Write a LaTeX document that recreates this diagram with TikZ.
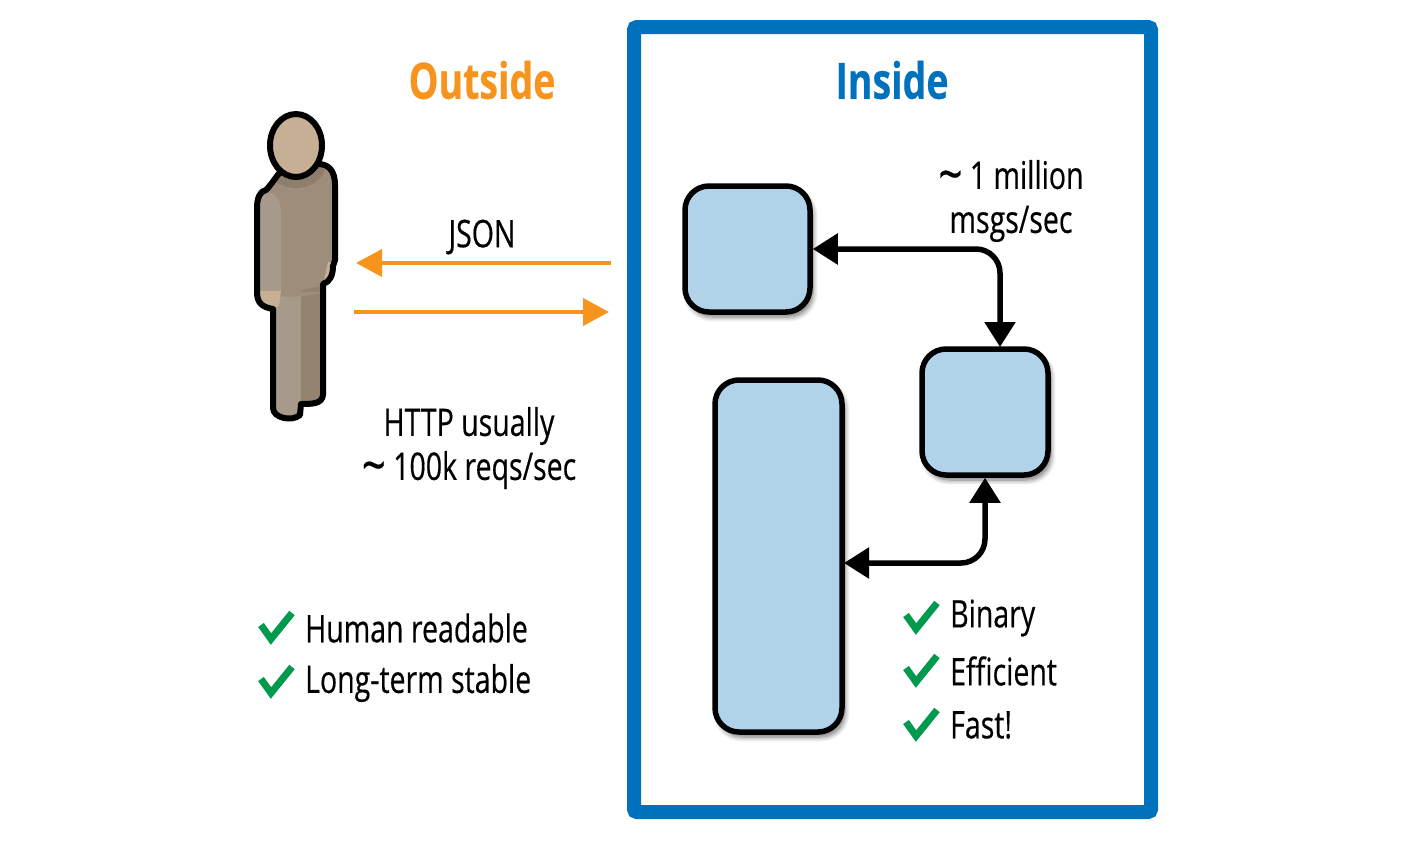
\documentclass[tikz,border=0pt]{standalone}
\usepackage{fontspec}
\setmainfont[FakeStretch=0.75, FakeBold=0.4]{Open Sans}
\usepackage{xcolor}
\usetikzlibrary{arrows.meta, positioning, shadows.blur, calc, shapes.geometric}
\definecolor{outsidecol}{HTML}{F7941E}
\definecolor{insidecol}{HTML}{0071BC}
\definecolor{boxcol}{HTML}{B0D3EA}
\definecolor{tickcol}{HTML}{009A4E}
\definecolor{skincol}{HTML}{C6AF94}
\definecolor{bodycol}{HTML}{9E8D7A}
\definecolor{armcol}{HTML}{A89A8A}
\definecolor{legcol}{HTML}{94836F}
\definecolor{collarcol}{HTML}{8F7E6B}
\newcommand{\widetilt}{\raisebox{-5pt}{\fontsize{56}{44}\selectfont\textasciitilde}}
\tikzset{
  service/.style={draw=black, line width=5.5pt, fill=boxcol, rounded corners=24pt, inner sep=0pt,
    blur shadow={shadow xshift=3pt, shadow yshift=-5pt, shadow blur radius=5pt, shadow blur steps=8, shadow opacity=55}},
  heading/.style={font=\fontsize{50}{52}\selectfont\bfseries},
  label/.style={font=\fontsize{38}{44}\selectfont, align=center, inner sep=0pt},
  orangearrow/.style={draw=outsidecol, line width=4pt, -{Triangle[length=26pt,width=27pt]}},
  blackarrow/.style={draw=black, line width=5.5pt, rounded corners=24pt,
    {Triangle[length=25pt,width=30pt]}-{Triangle[length=25pt,width=30pt]}},
  tick/.pic={\draw[tickcol, line width=7pt] (-16,-2) -- (-6,12) -- (15,-14);}
}
\begin{document}
\begin{tikzpicture}[x=1pt, y=-1pt]
  \useasboundingbox (0,0) rectangle (1411,844);

  % frame
  \node[draw=insidecol, line width=14pt, rounded corners=3pt, minimum width=517pt, minimum height=785pt, inner sep=0pt] (frame) at (892.5,419.5) {};
  \node[heading, text=outsidecol] (outside) at (482,80) {Outside};
  \node[heading, text=insidecol] (inside) at (892,80) {Inside};

  % person
  \def\personpath{(280,172) .. controls (274,180) and (270,186) .. (266,190) .. controls (260,191) and (257,198) .. (257,208)
    -- (257,292) .. controls (257,302) and (261,307) .. (273,309) -- (273,408)
    .. controls (273,418) and (292,422) .. (300,415) -- (301,404) .. controls (312,404) and (322,404) .. (323,395)
    -- (323,284) .. controls (330,282) and (333,275) .. (333,266) -- (335,260) -- (335,185) .. controls (335,170) and (328,164) .. (318,164) -- (296,175) -- cycle}
  \fill[bodycol] \personpath;
  \begin{scope}
    \clip \personpath;
    \fill[collarcol] (296,166) ellipse [x radius=29, y radius=22];
    \fill[armcol] (250,190) -- (265,192) .. controls (275,192) and (281,200) .. (281,212) -- (281,292) -- (250,292) -- cycle;
    \fill[armcol] (272,296) -- (301,296) -- (301,425) -- (272,425) -- cycle;
    \fill[legcol] (301,290) -- (326,285) -- (326,425) -- (301,425) -- cycle;
    \fill[bodycol] (272,292) -- (322,292) .. controls (315,296) and (290,298) .. (272,296) -- cycle;
    \fill[skincol] (255,291) -- (281,291) -- (279,306) -- (270,310) -- (255,310) -- cycle;
    \fill[skincol] (328,262) -- (337,262) -- (337,285) -- (323,285) -- cycle;
  \end{scope}
  \draw[line width=6pt, line join=round] \personpath;
  \node[draw=black, line width=6pt, fill=skincol, ellipse, minimum width=52pt, minimum height=63pt, inner sep=0pt] (head) at (296,145.5) {};

  % services
  \node[service, minimum width=125pt, minimum height=126pt] (boxa) at (747.5,249) {};
  \node[service, minimum width=126pt, minimum height=126pt] (boxb) at (985,412) {};
  \node[service, minimum width=127pt, minimum height=352pt] (boxc) at (778.5,556) {};

  % arrows
  \coordinate (bendab) at (1000,249);
  \coordinate (topb) at (1000,347);
  \coordinate (bendbc) at (985,563);
  \coordinate (eastc) at (844,563);
  \draw[blackarrow] (boxa.east) -- (bendab) -- (topb);
  \draw[blackarrow] (boxb.south) -- (bendbc) -- (eastc);

  \coordinate (jsonin) at (611,263);
  \coordinate (jsonout) at (356,263);
  \coordinate (httpin) at (354,312);
  \coordinate (httpout) at (609,312);
  \draw[orangearrow] (jsonin) -- (jsonout);
  \draw[orangearrow] (httpin) -- (httpout);

  % labels
  \node[label] (json) at (482,237) {JSON};
  \node[label] (http) at (469,448) {HTTP usually\\\widetilt{} 100k reqs/sec};
  \node[label] (million) at (1011,201) {\widetilt{} 1 million\\msgs/sec};

  % ticks
  \node[label, right] (human) at (305,628) {Human readable};
  \node[label, right] (stable) at (305,683) {Long-term stable};
  \node[label, right] (binary) at (950,618) {Binary};
  \node[label, right] (efficient) at (950,671) {Efficient};
  \node[label, right] (fast) at (950,725) {Fast!};
  \pic at (277,627) {tick};
  \pic at (277,681) {tick};
  \pic at (922,617) {tick};
  \pic at (922,670) {tick};
  \pic at (922,724) {tick};
\end{tikzpicture}
\end{document}
